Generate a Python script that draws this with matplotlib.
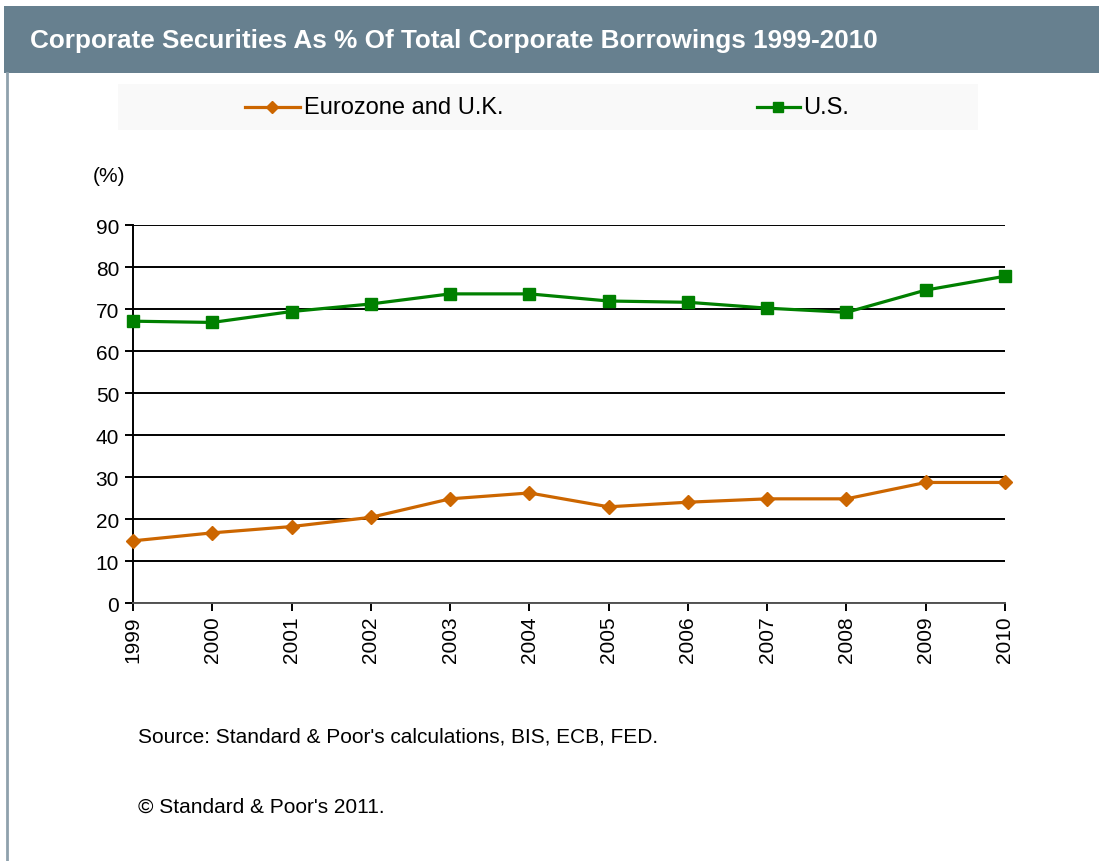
import matplotlib.pyplot as plt
from matplotlib.patches import Rectangle
from matplotlib.lines import Line2D

plt.rcParams['font.family'] = ['Liberation Sans', 'DejaVu Sans']

# data
years = ['1999', '2000', '2001', '2002', '2003', '2004',
         '2005', '2006', '2007', '2008', '2009', '2010']
euro_uk = [14.8, 16.7, 18.2, 20.4, 24.8, 26.2, 22.9, 24.0, 24.8, 24.8, 28.7, 28.7]
us = [67.1, 66.8, 69.4, 71.2, 73.6, 73.6, 71.9, 71.6, 70.2, 69.2, 74.5, 77.8]
yticks = [0, 10, 20, 30, 40, 50, 60, 70, 80, 90]

orange = '#cc6600'
green = '#008000'
bar_col = '#67808f'

W, H = 1099, 862
fig = plt.figure(figsize=(W / 100, H / 100), dpi=100)
fig.patch.set_facecolor('white')

# title bar and left border
fig.add_artist(Rectangle((4 / W, 1 - 74 / H), 1, 67 / H, transform=fig.transFigure,
                         facecolor=bar_col, edgecolor='none'))
fig.add_artist(Line2D([7 / W, 7 / W], [0, 1 - 74 / H], transform=fig.transFigure,
                      color='#8fa1ad', lw=2))
fig.text(30 / W, 1 - 41 / H, 'Corporate Securities As % Of Total Corporate Borrowings 1999-2010',
         color='white', fontsize=18.8, fontweight='bold', va='center')

# legend strip
fig.add_artist(Rectangle((118 / W, 1 - 131 / H), 860 / W, 46 / H, transform=fig.transFigure,
                         facecolor='#f9f9f9', edgecolor='none'))
ly = 1 - 108 / H
fig.add_artist(Line2D([245 / W, 300 / W], [ly, ly], transform=fig.transFigure,
                      color=orange, lw=2.3))
fig.add_artist(Line2D([272 / W], [ly], transform=fig.transFigure, marker='D',
                      color=orange, markersize=6))
fig.text(304 / W, ly, 'Eurozone and U.K.', fontsize=17, va='center')
fig.add_artist(Line2D([757 / W, 800 / W], [ly, ly], transform=fig.transFigure,
                      color=green, lw=2.3))
fig.add_artist(Line2D([778 / W], [ly], transform=fig.transFigure, marker='s',
                      color=green, markersize=7))
fig.text(803 / W, ly, 'U.S.', fontsize=17, va='center')

ax = fig.add_axes([133 / W, 1 - 604 / H, 872 / W, 378 / H])
x = list(range(len(years)))
ax.plot(x, euro_uk, color=orange, lw=2.3, marker='D', markersize=7, zorder=3, clip_on=False)
ax.plot(x, us, color=green, lw=2.3, marker='s', markersize=8, zorder=3, clip_on=False)

ax.set_xlim(0, len(years) - 1)
ax.set_ylim(0, 90)
ax.set_yticks(yticks)
ax.set_xticks(x)
ax.set_xticklabels(years, rotation=90)
ax.grid(axis='y', color='black', lw=1.4)
ax.set_axisbelow(True)
for s in ['top', 'right']:
    ax.spines[s].set_visible(False)
ax.spines['left'].set_linewidth(1.4)
ax.spines['bottom'].set_linewidth(1.4)
ax.spines['bottom'].set_color('#555555')
ax.tick_params(axis='both', labelsize=15, length=6, width=1.4, direction='out')
ax.tick_params(axis='y', pad=4)
ax.tick_params(axis='x', pad=3)

fig.text(93 / W, 1 - 176 / H, '(%)', fontsize=15, va='center')
fig.text(138 / W, 1 - 737 / H, "Source: Standard & Poor's calculations, BIS, ECB, FED.",
         fontsize=15, va='center')
fig.text(138 / W, 1 - 807 / H, "\u00a9 Standard & Poor's 2011.", fontsize=15, va='center')

fig.savefig('out.png', dpi=100)
